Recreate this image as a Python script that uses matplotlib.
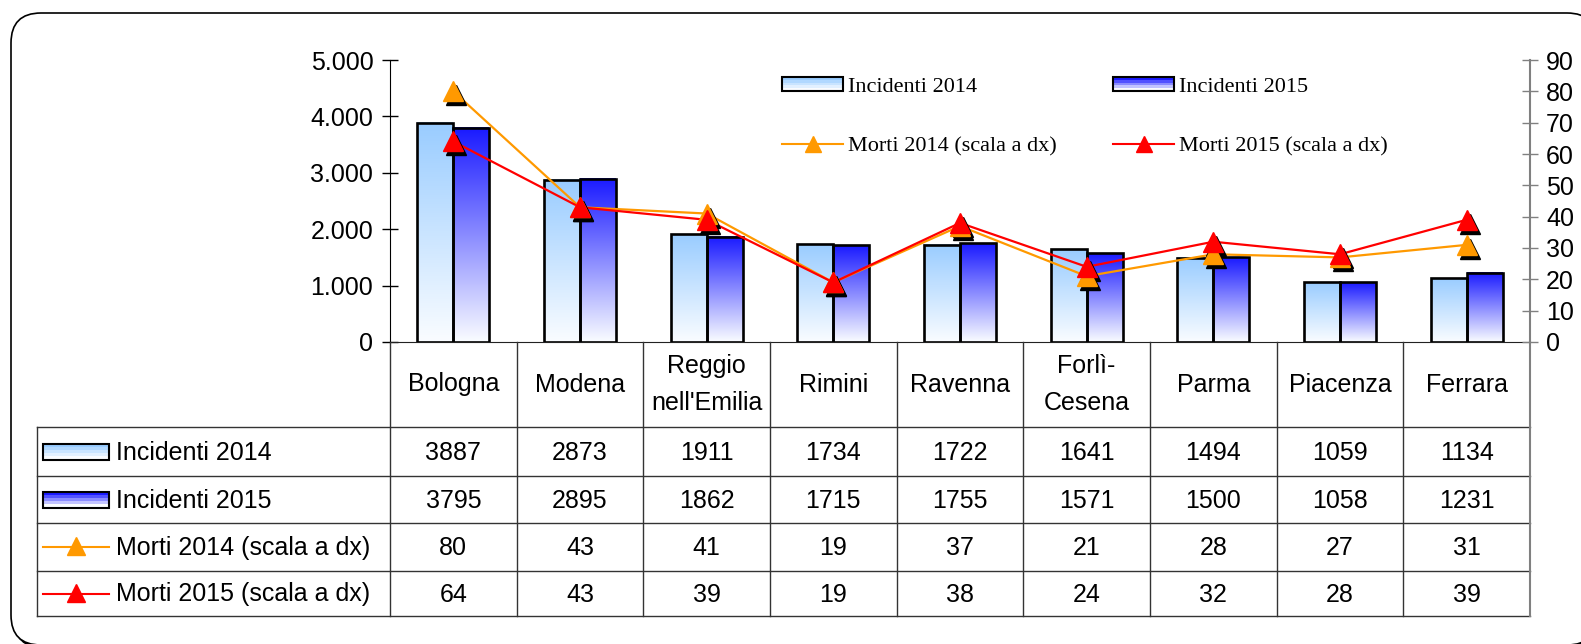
import numpy as np
import matplotlib
matplotlib.use("Agg")
import matplotlib.pyplot as plt
from matplotlib.patches import Rectangle, Patch, FancyBboxPatch
from matplotlib.lines import Line2D
from matplotlib.legend_handler import HandlerBase
from matplotlib.transforms import ScaledTranslation, Affine2D
from matplotlib.ticker import FuncFormatter

cities = ["Bologna", "Modena", "Reggio\nnell'Emilia", "Rimini", "Ravenna",
          "Forlì-\nCesena", "Parma", "Piacenza", "Ferrara"]
inc14 = [3887, 2873, 1911, 1734, 1722, 1641, 1494, 1059, 1134]
inc15 = [3795, 2895, 1862, 1715, 1755, 1571, 1500, 1058, 1231]
morti14 = [80, 43, 41, 19, 37, 21, 28, 27, 31]
morti15 = [64, 43, 39, 19, 38, 24, 32, 28, 39]
row_labels = ["Incidenti 2014", "Incidenti 2015",
              "Morti 2014 (scala a dx)", "Morti 2015 (scala a dx)"]

W, H = 1581, 644
SANS = "Liberation Sans"
SERIF = "Liberation Serif"
FS = 18

top14 = np.array([0.60, 0.80, 1.0])
top15 = np.array([0.10, 0.10, 1.0])
bot = np.array([0.98, 0.99, 1.0])
orange = "#FF9900"
red = "#FF0000"

fig = plt.figure(figsize=(W / 100, H / 100), dpi=100)

# rounded frame with a small shadow
pix = Affine2D().scale(1 / 100) + fig.dpi_scale_trans
shadow = FancyBboxPatch((14, -4), 1586, 632, boxstyle="round,pad=0,rounding_size=30",
                        transform=pix, facecolor="black", edgecolor="black", lw=1, zorder=-2)
frame = FancyBboxPatch((11, -1), 1586, 632, boxstyle="round,pad=0,rounding_size=30",
                       transform=pix, facecolor="white", edgecolor="black", lw=1.2, zorder=-1)
fig.add_artist(shadow)
fig.add_artist(frame)

L, R, T, B = 390, 1530, 60, 342
ax = fig.add_axes([L / W, 1 - B / H, (R - L) / W, (B - T) / H])
ax2 = ax.twinx()

x = np.arange(len(cities))
bw = 0.284


def gradient_bars(rects, top):
    t = np.linspace(0, 1, 256).reshape(-1, 1, 1)
    img = bot * (1 - t) + top * t
    for r in rects:
        x0, w, h = r.get_x(), r.get_width(), r.get_height()
        ax.imshow(img, extent=[x0, x0 + w, 0, h], origin="lower", aspect="auto",
                  interpolation="bilinear", zorder=1)


b14 = ax.bar(x - bw / 2, inc14, bw, facecolor="none", edgecolor="black", lw=1.9, zorder=2)
b15 = ax.bar(x + bw / 2, inc15, bw, facecolor="none", edgecolor="black", lw=1.9, zorder=2)
gradient_bars(b14, top14)
gradient_bars(b15, top15)

ax.set_xlim(-0.5, len(cities) - 0.5)
ax.set_ylim(0, 5000)
ax.set_yticks(range(0, 5001, 1000))
ax.yaxis.set_major_formatter(FuncFormatter(lambda v, p: f"{int(v):,}".replace(",", ".")))
ax.set_xticks([])
for s in ["top", "right"]:
    ax.spines[s].set_visible(False)
ax.spines["left"].set_color("black")
ax.spines["bottom"].set_color("#222222")
ax.tick_params(axis="y", direction="inout", length=11, width=1, pad=6.5,
               labelsize=FS, labelfontfamily=SANS, colors="black")

shadow_off = ScaledTranslation(3 / 100, -4 / 100, fig.dpi_scale_trans)
for vals, col in [(morti14, orange), (morti15, red)]:
    ax2.plot(x, vals, color=col, lw=1.6, zorder=3)
    ax2.plot(x, vals, ls="none", marker="^", ms=15, color="black",
             transform=ax2.transData + shadow_off, zorder=4)
    ax2.plot(x, vals, ls="none", marker="^", ms=15, color=col, zorder=5)
ax2.set_ylim(0, 90)
ax2.set_yticks(range(0, 91, 10))
for s in ["top", "left", "bottom"]:
    ax2.spines[s].set_visible(False)
ax2.spines["right"].set_color("#808080")
ax2.spines["right"].set_linewidth(1.5)
ax2.tick_params(axis="y", direction="inout", length=11, width=1, pad=6,
                labelsize=FS, labelfontfamily=SANS, color="#808080", labelcolor="black")


class GradientKey(HandlerBase):
    def __init__(self, top, n=5):
        super().__init__()
        self.top, self.n = top, n

    def create_artists(self, legend, orig, xd, yd, width, height, fontsize, trans):
        arts = []
        for k in range(self.n):
            t = k / (self.n - 1)
            c = bot * (1 - t) + self.top * t
            arts.append(Rectangle((-xd, -yd + height * k / self.n), width, height / self.n,
                                  facecolor=c, edgecolor="none", transform=trans))
        arts.append(Rectangle((-xd, -yd), width, height, facecolor="none",
                              edgecolor="black", lw=1.5, transform=trans))
        return arts


p14 = Patch(label="Incidenti 2014")
p15 = Patch(label="Incidenti 2015")
l14 = Line2D([], [], color=orange, lw=1.5, marker="^", ms=12, label="Morti 2014 (scala a dx)")
l15 = Line2D([], [], color=red, lw=1.5, marker="^", ms=12, label="Morti 2015 (scala a dx)")
fig.legend(handles=[p14, l14, p15, l15], ncol=2, loc="upper left",
           bbox_to_anchor=(782 / W, 1 - 77 / H), frameon=False,
           prop={"family": SERIF, "size": 16},
           handler_map={p14: GradientKey(top14), p15: GradientKey(top15)},
           handlelength=2.75, handleheight=0.6, handletextpad=0.2,
           columnspacing=2.55, labelspacing=1.78, borderpad=0, borderaxespad=0)

# data table below the plot
TL, TB = 37, 616
colw = (R - L) / len(cities)
xl = -0.5 - (L - TL) / colw
ax_t = fig.add_axes([TL / W, 1 - TB / H, (R - TL) / W, (TB - B) / H])
ax_t.set_xlim(xl, len(cities) - 0.5)
ax_t.set_ylim(TB - B, 0)
ax_t.axis("off")

rows = [0, 85, 134, 181, 229, 274]
xr = len(cities) - 0.5
lc = "#333333"
for yy in rows[1:]:
    ax_t.plot([xl, xr], [yy, yy], color=lc, lw=1, clip_on=False)
ax_t.plot([xl, xl], [rows[1], rows[-1]], color=lc, lw=1, clip_on=False)
for k in range(len(cities)):
    ax_t.plot([k - 0.5, k - 0.5], [0, rows[-1]], color=lc, lw=1, clip_on=False)
ax_t.plot([xr, xr], [0, rows[-1]], color="#808080", lw=1.5, clip_on=False)

for i, c in enumerate(cities):
    ax_t.text(i, (rows[0] + rows[1]) / 2, c, ha="center", va="center",
              fontsize=FS, family=SANS, linespacing=1.65)


def tx(p):
    return xl + p / colw


series = [inc14, inc15, morti14, morti15]
for r, (lab, vals) in enumerate(zip(row_labels, series)):
    yc = (rows[r + 1] + rows[r + 2]) / 2
    ax_t.text(tx(79), yc + 1, lab, ha="left", va="center", fontsize=FS, family=SANS)
    for i, v in enumerate(vals):
        ax_t.text(i, yc + 1, str(v), ha="center", va="center", fontsize=FS, family=SANS)
    if r < 2:
        top = top14 if r == 0 else top15
        n = 5
        kh = 16
        for k in range(n):
            t = k / (n - 1)
            cc = bot * (1 - t) + top * t
            ax_t.add_patch(Rectangle((tx(6), yc + kh / 2 - kh * (k + 1) / n), 66 / colw, kh / n,
                                     facecolor=cc, edgecolor="none"))
        ax_t.add_patch(Rectangle((tx(6), yc - kh / 2), 66 / colw, kh,
                                 facecolor="none", edgecolor="black", lw=1.5))
    else:
        col = orange if r == 2 else red
        ax_t.plot([tx(6), tx(72)], [yc, yc], color=col, lw=1.5)
        ax_t.plot([tx(39)], [yc - 1], marker="^", ms=13, color=col)

fig.savefig("out.png", dpi=100)
